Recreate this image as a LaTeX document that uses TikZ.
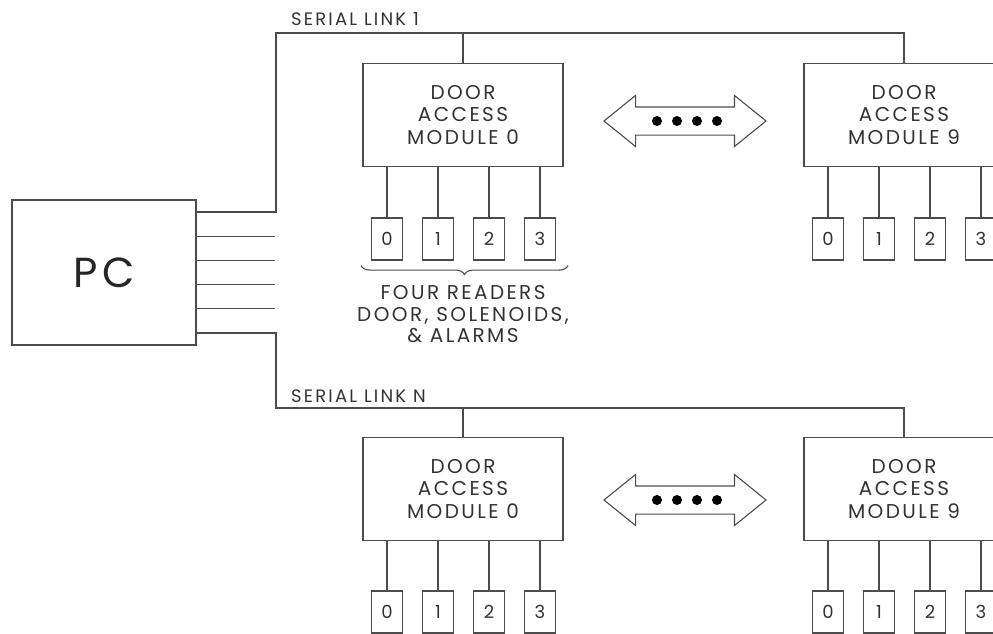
\documentclass[tikz,border=0pt]{standalone}
\usepackage{fontspec}
\setmainfont{Poppins}[LetterSpace=12]
\usetikzlibrary{positioning,shapes.arrows,decorations.pathreplacing}

\tikzset{
  wire/.style={draw=black!70, line width=1.1pt},
  module/.style={draw=black!70, line width=1.1pt, minimum width=200pt, minimum height=103pt,
    align=center, text=black!80, font=\fontsize{20}{22.5}\selectfont},
  reader/.style={draw=black!70, line width=1.1pt, minimum width=31pt, minimum height=42pt,
    inner sep=0pt, text=black!80, font=\fontsize{18}{18}\selectfont},
  linklabel/.style={anchor=base west, inner sep=0pt, text=black!80, font=\fontsize{18}{18}\selectfont},
  dblarrow/.style={draw=black!70, line width=1.1pt, double arrow, double arrow head extend=11.5pt,
    double arrow tip angle=78, minimum height=162pt, inner xsep=0pt, inner ysep=13.5pt}
}

\begin{document}
\begin{tikzpicture}[x=1pt, y=-1pt]
  \useasboundingbox (0,0) rectangle (993,634);
  \clip (0,0) rectangle (993,634);

  % the PC and its six ports
  \node (pc) [draw=black!70, line width=1.1pt, minimum width=184pt, minimum height=145pt,
    text=black!85, font=\fontsize{42}{42}\selectfont] at (104,272.5) {PC};

  \coordinate (bus1) at (276,33);
  \coordinate (busN) at (276,408);

  % serial link 1
  \node (dam10) [module] at (463,115) {DOOR\\ACCESS\\MODULE 0};
  \node (dam19) [module] at (904,115) {DOOR\\ACCESS\\MODULE 9};
  \node (lnk1) [linklabel] at (291,26) {SERIAL LINK 1};
  \draw[wire] (pc.east |- 0,212) -| (bus1) -| (dam19.north);
  \draw[wire] (dam10.north) -- (dam10.north |- bus1);

  % spare ports
  \foreach \y in {236.2,260.4,284.6,308.8}
    \draw[wire] (pc.east |- 0,\y) -- ++(78,0);

  % serial link N
  \node (damN0) [module] at (463,489) {DOOR\\ACCESS\\MODULE 0};
  \node (damN9) [module] at (904,489) {DOOR\\ACCESS\\MODULE 9};
  \node (lnkN) [linklabel] at (291,402) {SERIAL LINK N};
  \draw[wire] (pc.east |- 0,333) -| (busN) -| (damN9.north);
  \draw[wire] (damN0.north) -- (damN0.north |- busN);

  % readers under every module
  \foreach \m/\x/\y in {10/387/239, 19/828/239, N0/387/612, N9/828/612}
    \foreach \i in {0,...,3} {
      \node (r\m\i) [reader] at (\x+51*\i,\y) {\i};
      \draw[wire] (dam\m.south -| r\m\i) -- (r\m\i);
    }

  % the modules in between
  \node (arr1) [dblarrow] at (685,121) {};
  \node (arrN) [dblarrow] at (685,500) {};
  \foreach \a in {arr1,arrN}
    \foreach \i in {0,...,3}
      \fill[black] (\a) ++(-28+20*\i,0) circle (5pt);

  \draw[wire, decorate, decoration={brace, mirror, amplitude=9pt}]
    ([xshift=-10pt,yshift=-5pt]r100.south west) -- ([xshift=12pt,yshift=-5pt]r103.south east);
  \node (fourrd) [align=center, anchor=north, text=black!80, font=\fontsize{20}{21.5}\selectfont]
    at (463,282) {FOUR READERS\\DOOR, SOLENOIDS,\\\& ALARMS};
\end{tikzpicture}
\end{document}
